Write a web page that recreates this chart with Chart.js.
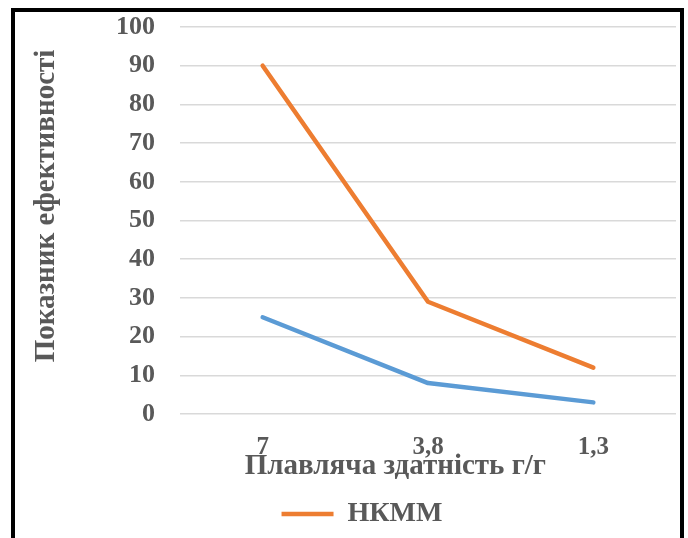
<!DOCTYPE html>
<html>
<head>
<meta charset="utf-8">
<script src="https://cdn.jsdelivr.net/npm/chart.js@4/dist/chart.umd.min.js"></script>
<style>
  body { margin: 0; background: #fff; }
  #wrap { position: relative; width: 688px; height: 538px; overflow: hidden; }
  #frame {
    position: absolute; left: 11px; top: 8px;
    width: 665px; height: 560px;
    border: 4.5px solid #000;
  }
  #chart { position: absolute; left: 0; top: 0; }
</style>
</head>
<body>
<div id="wrap">
  <div id="frame"></div>
  <canvas id="chart" width="688" height="538"></canvas>
</div>
<script>
// melting capacity categories and efficiency values
const categories = ['7', '3,8', '1,3'];
const nkmmValues = [90, 29, 12];
const secondValues = [25, 8, 3];

const yMin = 0;
const yMax = 100;
const yStep = 10;

const textColor = '#595959';
const fontFamily = "'Liberation Serif', 'Times New Roman', serif";

// nudge the legend row sideways after layout
const legendShift = {
    id: 'legendShift',
    afterLayout(chart) {
        chart.legend.left += 16;
        chart.legend.right += 16;
    }
};

const ctx = document.getElementById('chart').getContext('2d');

new Chart(ctx, {
    type: 'line',
    data: {
        labels: categories,
        datasets: [{
            label: 'НКММ',
            data: nkmmValues,
            borderColor: '#ED7D31',
            backgroundColor: '#ED7D31',
            borderWidth: 4.5,
            borderCapStyle: 'round',
            borderJoinStyle: 'round',
            pointRadius: 0,
            pointStyle: 'line',
            tension: 0
        }, {
            label: 'Серія 2',
            data: secondValues,
            borderColor: '#5B9BD5',
            backgroundColor: '#5B9BD5',
            borderWidth: 4.5,
            borderCapStyle: 'round',
            borderJoinStyle: 'round',
            pointRadius: 0,
            tension: 0
        }]
    },
    options: {
        responsive: false,
        animation: false,
        layout: {
            padding: { left: 16, right: 12, top: 27, bottom: 0 }
        },
        plugins: {
            legend: {
                position: 'bottom',
                labels: {
                    filter: item => item.datasetIndex === 0,
                    usePointStyle: true,
                    pointStyleWidth: 52,
                    padding: 16,
                    color: textColor,
                    font: { family: fontFamily, size: 28, weight: 'bold' }
                }
            },
            tooltip: { enabled: false }
        },
        scales: {
            x: {
                offset: true,
                grid: { display: false },
                border: { display: false },
                ticks: {
                    padding: 11,
                    color: textColor,
                    font: { family: fontFamily, size: 25, weight: 'bold' }
                },
                title: {
                    display: true,
                    // trailing spaces pull the centred title to the left
                    text: 'Плавляча здатність г/г         ',
                    color: textColor,
                    padding: { top: 0, bottom: 0 },
                    font: { family: fontFamily, size: 29, weight: 'bold' }
                },
                afterFit(scale) { scale.height = 70; }
            },
            y: {
                min: yMin,
                max: yMax,
                // invisible tick marks keep the labels away from the grid
                // without adding ticks.padding to the top of the scale
                grid: {
                    color: '#D9D9D9',
                    lineWidth: 1.5,
                    drawTicks: true,
                    tickLength: 25,
                    tickColor: 'rgba(0,0,0,0)'
                },
                border: { display: false },
                ticks: {
                    stepSize: yStep,
                    padding: 0,
                    color: textColor,
                    font: { family: fontFamily, size: 26, weight: 'bold' }
                },
                title: {
                    display: true,
                    text: '    Показник ефективності',
                    color: textColor,
                    padding: { top: 13, bottom: 0 },
                    font: { family: fontFamily, size: 29, weight: 'bold' }
                },
                afterFit(scale) { scale.width = 164; }
            }
        }
    },
    plugins: [legendShift]
});
</script>
</body>
</html>
